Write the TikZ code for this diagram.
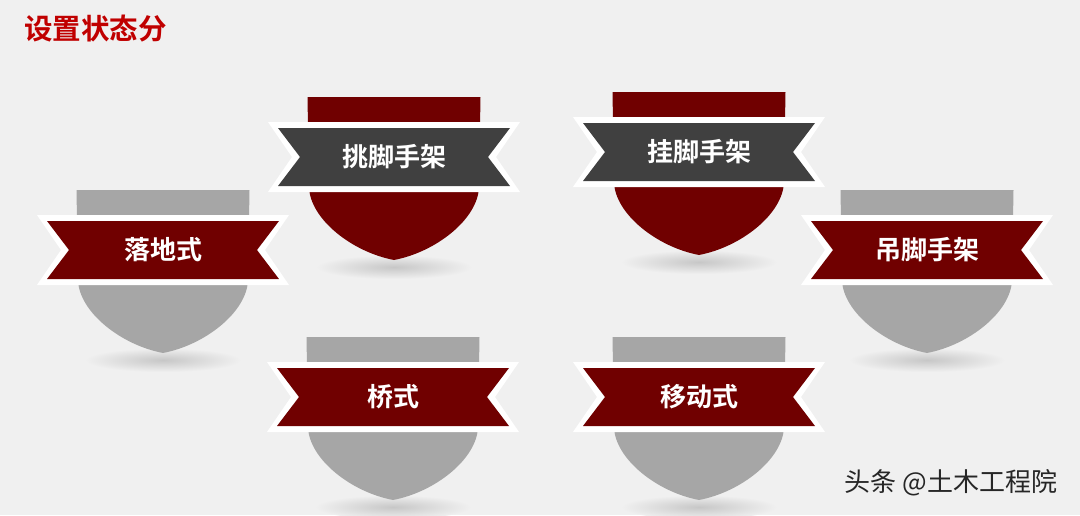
\documentclass[tikz,border=0pt]{standalone}
\usepackage{fontspec}
\newfontfamily\cjkb{Noto Sans CJK SC Bold}
\newfontfamily\cjkr{Noto Sans CJK SC}
\usetikzlibrary{shadings}
\definecolor{bgc}{HTML}{F0F0F0}
\definecolor{darkred}{HTML}{700000}
\definecolor{shieldgray}{HTML}{A6A6A6}
\definecolor{bandgray}{HTML}{404040}
\definecolor{titlered}{HTML}{C00000}
\tikzset{
  lbl/.style={text=white,font=\cjkb\fontsize{26}{30}\selectfont,inner sep=0pt},
  shadowell/.style={inner color=black!22,outer color=bgc,draw=none},
}
\newcommand\shieldbadge[6]{%
  \begin{scope}[shift={(#2,#3)}]
    \shade[shadowell] (0,110) ellipse [x radius=78,y radius=12];
    \fill[#4] (-86.5,-60) -- (86.5,-60) -- (85,30)
      .. controls (84,62) and (42,95) .. (0,103)
      .. controls (-42,95) and (-84,62) .. (-85,30) -- cycle;
    \fill[white] (-126,-35) -- (126,-35) -- (102,0) -- (126,35)
      -- (-126,35) -- (-102,0) -- cycle;
    \fill[#5] (-116,-29) -- (116,-29) -- (94,0) -- (116,29)
      -- (-116,29) -- (-94,0) -- cycle;
    \node[lbl] (#1) at (0,0) {#6};
  \end{scope}}
\begin{document}
\begin{tikzpicture}[x=1pt,y=-1pt]
\fill[bgc] (0,0) rectangle (1080,515);
\useasboundingbox (0,0) rectangle (1080,515);
\node[anchor=west,inner sep=0pt,text=titlered,font=\cjkb\fontsize{28.5}{32}\selectfont] (title) at (24,29) {设置状态分};
\shieldbadge{luodi}{163}{250}{shieldgray}{darkred}{落地式}
\shieldbadge{tiao}{394}{157}{darkred}{bandgray}{挑脚手架}
\shieldbadge{gua}{699}{152}{darkred}{bandgray}{挂脚手架}
\shieldbadge{diao}{927}{250}{shieldgray}{darkred}{吊脚手架}
\shieldbadge{qiao}{393}{397}{shieldgray}{darkred}{桥式}
\shieldbadge{yidong}{699}{397}{shieldgray}{darkred}{移动式}
\node[anchor=center,inner sep=0pt,text=black!85,font=\cjkr\fontsize{26}{30}\selectfont] (mark) at (951,483) {头条 @土木工程院};
\end{tikzpicture}
\end{document}
